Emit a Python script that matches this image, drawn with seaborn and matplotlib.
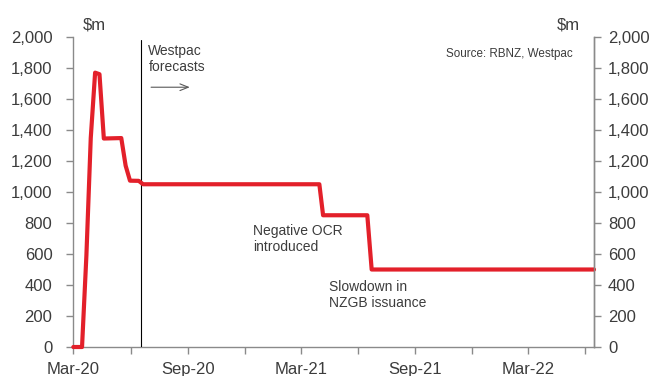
import matplotlib
matplotlib.use("Agg")
import matplotlib.pyplot as plt
import matplotlib.ticker as mticker
import seaborn as sns
import pandas as pd

# ---- data ----
dates = ["2020-03-01", "2020-03-15", "2020-03-22", "2020-03-29", "2020-04-05",
         "2020-04-12", "2020-04-19", "2020-05-17", "2020-05-24", "2020-05-31",
         "2020-06-14", "2020-06-21", "2021-03-31", "2021-04-06", "2021-06-16",
         "2021-06-23", "2022-06-15"]
values = [0, 0, 590, 1348, 1770, 1760, 1345, 1348, 1170, 1073,
          1072, 1050, 1050, 850, 850, 500, 500]

tick_dates = ["2020-03-01", "2020-06-01", "2020-09-01", "2020-12-01", "2021-03-01",
              "2021-06-01", "2021-09-01", "2021-12-01", "2022-03-01", "2022-06-01"]
tick_labels = ["Mar-20", "", "Sep-20", "", "Mar-21", "", "Sep-21", "", "Mar-22", ""]
y_ticks = [0, 200, 400, 600, 800, 1000, 1200, 1400, 1600, 1800, 2000]
x_start, x_end = "2020-03-01", "2022-06-15"
forecast_start = "2020-06-17"

RED = "#E3202A"
GREY = "#8A8A8A"
TXT = "#3C3C3C"

sns.set_theme(style="white")
plt.rcParams["font.family"] = ["Liberation Sans", "DejaVu Sans"]

df = pd.DataFrame({"date": pd.to_datetime(dates), "value": values})

fig = plt.figure(figsize=(6.54, 3.76), dpi=100)
ax = fig.add_axes([0.1121, 0.0771, 0.7962, 0.8245])

sns.lineplot(data=df, x="date", y="value", ax=ax, color=RED, linewidth=3,
             clip_on=False, zorder=5)

ax.set_xlim(pd.Timestamp(x_start), pd.Timestamp(x_end))
ax.set_ylim(0, 2000)
ax.set_xticks(pd.to_datetime(tick_dates))
ax.set_xticklabels(tick_labels)
ax.set_yticks(y_ticks)
fmt = mticker.FuncFormatter(lambda v, p: f"{int(v):,}")
ax.yaxis.set_major_formatter(fmt)
ax.set_xlabel("")
ax.set_ylabel("")

for s in ["left", "bottom", "right"]:
    ax.spines[s].set_color(GREY)
    ax.spines[s].set_linewidth(1.0)
ax.spines["top"].set_visible(False)

ax.tick_params(axis="x", bottom=True, direction="out", length=5, width=1,
               color=GREY, labelsize=12, labelcolor=TXT, pad=6)
ax.tick_params(axis="y", left=True, direction="out", length=5, width=1,
               color=GREY, labelsize=12, labelcolor=TXT, pad=10)

ax2 = ax.twinx()
ax2.set_ylim(0, 2000)
ax2.set_yticks(y_ticks)
ax2.yaxis.set_major_formatter(fmt)
for s in ["left", "bottom", "top"]:
    ax2.spines[s].set_visible(False)
ax2.spines["right"].set_color(GREY)
ax2.spines["right"].set_linewidth(1.0)
ax2.tick_params(axis="y", right=True, direction="out", length=5, width=1,
                color=GREY, labelsize=12, labelcolor=TXT, pad=5)
ax2.grid(False)

ax.axvline(pd.Timestamp(forecast_start), ymax=0.99, color="black", lw=0.8, zorder=3)

ax.text(0.144, 0.977, "Westpac\nforecasts", transform=ax.transAxes, fontsize=10,
        color=TXT, va="top", ha="left", linespacing=1.15)
ax.annotate("", xy=(0.229, 0.838), xytext=(0.144, 0.838), xycoords="axes fraction",
            arrowprops=dict(arrowstyle="->,head_length=0.5,head_width=0.2",
                            color="#595959", lw=0.8))
ax.text(0.3445, 0.397, "Negative OCR\nintroduced", transform=ax.transAxes,
        fontsize=10, color=TXT, va="top", ha="left", linespacing=1.15)
ax.text(0.491, 0.216, "Slowdown in\nNZGB issuance", transform=ax.transAxes,
        fontsize=10, color=TXT, va="top", ha="left", linespacing=1.15)
ax.text(0.959, 0.946, "Source: RBNZ, Westpac", transform=ax.transAxes,
        fontsize=8.4, color=TXT, va="center", ha="right")

fig.text(83 / 654, 1 - 25 / 376, "$m", fontsize=12, color=TXT, va="center", ha="left")
fig.text(557 / 654, 1 - 25 / 376, "$m", fontsize=12, color=TXT, va="center", ha="left")

fig.savefig("out.png", dpi=100)
